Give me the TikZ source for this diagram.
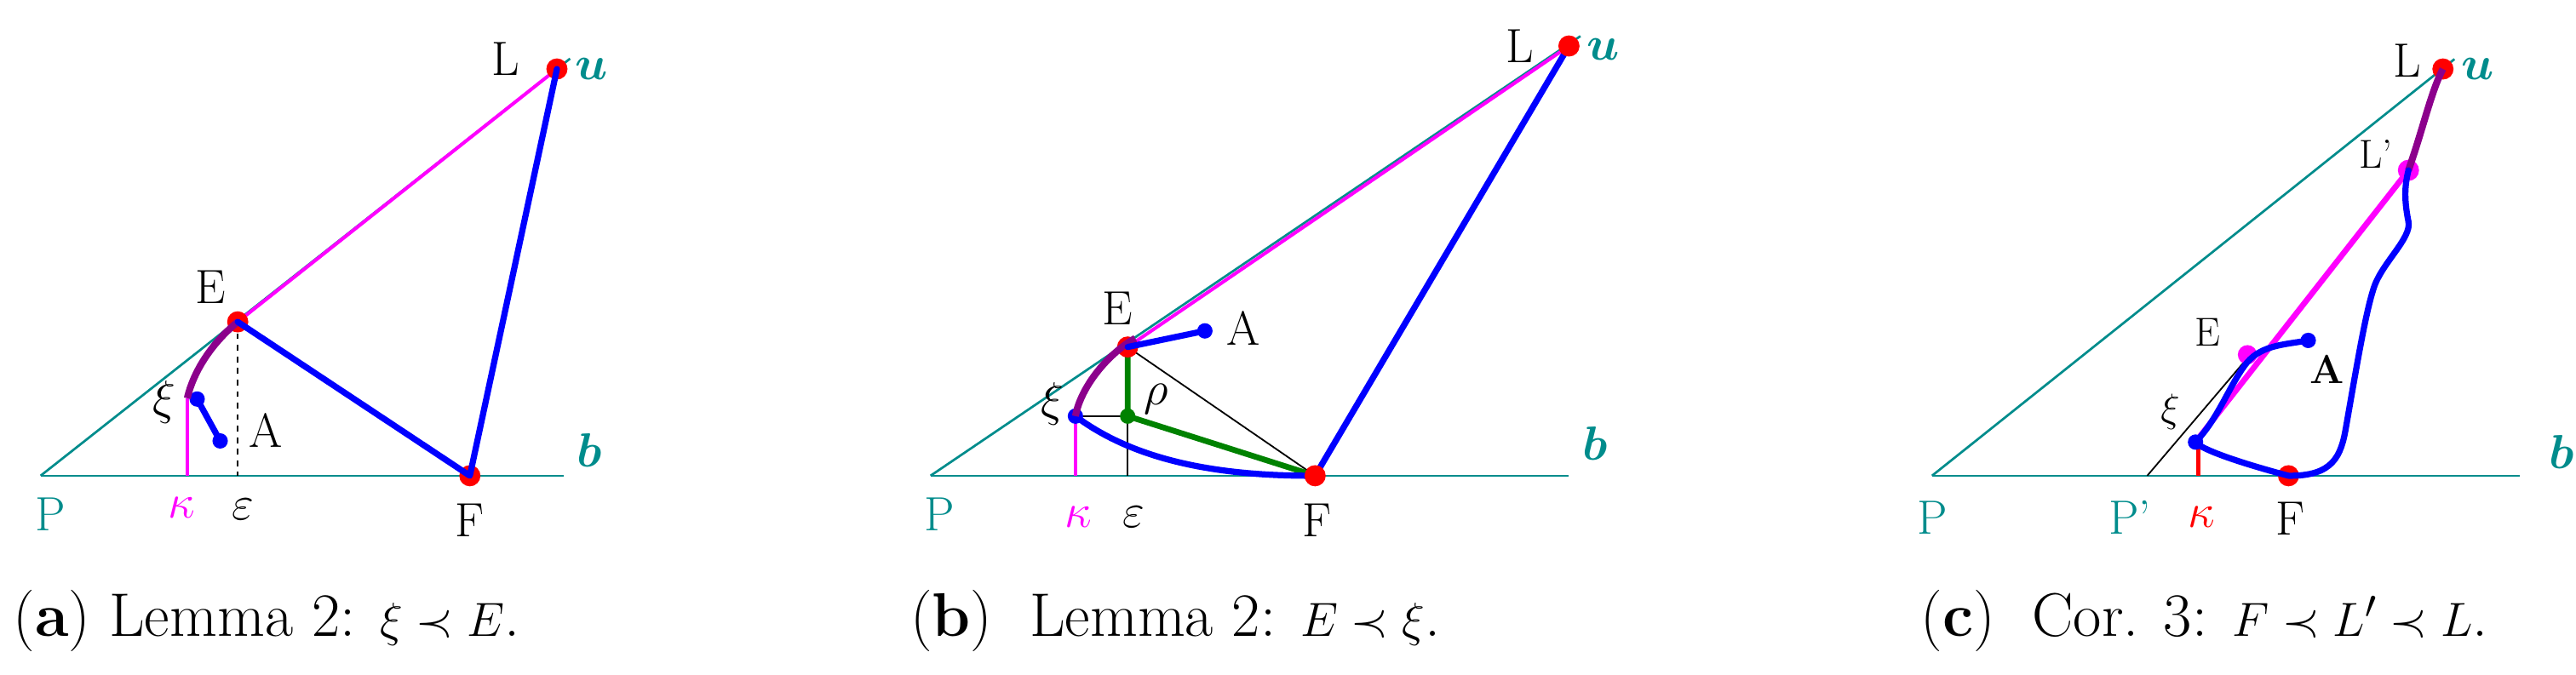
\documentclass[tikz,border=0pt]{standalone}
\usepackage{bm}
\begin{document}
\begin{tikzpicture}[x=0.03cm,y=-0.03cm,
  tl/.style={color=tealc,line width=1.2pt},
  bl/.style={color=blue,line width=3.2pt,line join=round,line cap=round},
  mg/.style={color=magc,line width=1.8pt},
  pu/.style={color=purplec,line width=3.6pt},
  gr/.style={color=greenc,line width=3pt},
  rdot/.style={circle,fill=red,inner sep=0pt,minimum size=11pt},
  bdot/.style={circle,fill=blue,inner sep=0pt,minimum size=8pt},
  lab/.style={font=\fontsize{25}{28}\selectfont},
  tlab/.style={font=\fontsize{25}{28}\selectfont,text=tealc},
  captxt/.style={font=\fontsize{32}{36}\selectfont,anchor=west}]
\definecolor{tealc}{RGB}{0,140,140}
\definecolor{purplec}{RGB}{140,0,140}
\definecolor{greenc}{RGB}{0,130,0}
\definecolor{magc}{RGB}{255,0,255}
\useasboundingbox (0,0) rectangle (1568,411);
% ---------------- (a)
\coordinate (Pa) at (24.7,289.7);
\coordinate (ba) at (343,289.7);
\coordinate (La) at (339,42);
\coordinate (ua) at (347,35.7);
\coordinate (Ea) at (144.7,196);
\coordinate (Fa) at (286,289.7);
\coordinate (xa) at (114,242.5);
\coordinate (xba) at (120,243);
\coordinate (Aa) at (134,268.5);
\coordinate (ka) at (114,289.7);
\coordinate (ea) at (144.7,289.7);
\draw[tl] (Pa) -- (ba);
\draw[tl] (Pa) -- (ua);
\draw[mg] (xa) -- (ka);
\draw[dashed,line width=0.8pt] (Ea) -- (ea);
\draw[mg] (Ea) -- (La);
\draw[bl] (xba) -- (Aa);
\node[rdot] (dEa) at (Ea) {};
\node[rdot] (dFa) at (Fa) {};
\node[rdot] (dLa) at (La) {};
\node[bdot] (dxa) at (xba) {};
\node[bdot] (dAa) at (Aa) {};
\draw[pu] (xa) .. controls (118,225) and (130,208) .. (Ea);
\draw[bl] (Ea) -- (Fa) -- (La);
\node[lab] (lEa) at (128,175) {E};
\node[lab] (lLa) at (308,36) {L};
\node[lab] (lFa) at (286,317) {F};
\node[lab] (lAa) at (162,262) {A};
\node[lab] (lxa) at (100,245) {$\xi$};
\node[lab] (lea) at (148,310) {$\varepsilon$};
\node[lab,text=magc] (lka) at (110.6,309) {$\kappa$};
\node[tlab] (lPa) at (30.6,313) {P};
\node[tlab] (lba) at (359,274) {$\bm{b}$};
\node[tlab] (lua) at (360,42) {$\bm{u}$};
\node[captxt] (capa) at (4,378) {(\textbf{a}) Lemma 2: $\xi \prec E$.};
% ---------------- (b)
\coordinate (Pb) at (566.4,289.7);
\coordinate (bb) at (955,289.7);
\coordinate (Lb) at (955,28);
\coordinate (ub) at (962,22);
\coordinate (Eb) at (686.4,211.3);
\coordinate (Ab) at (733.4,201.5);
\coordinate (xb) at (654.6,253.4);
\coordinate (gb) at (686.4,253.4);
\coordinate (Fb) at (800.5,289.7);
\coordinate (kb) at (654.6,289.7);
\coordinate (eb) at (686.4,289.7);
\draw[tl] (Pb) -- (bb);
\draw[tl] (Pb) -- (ub);
\draw[mg] (xb) -- (kb);
\draw[line width=0.8pt] (gb) -- (eb);
\draw[line width=0.8pt] (xb) -- (gb);
\draw[line width=0.8pt] (Eb) -- (Fb);
\draw[mg] (Eb) -- (Lb);
\draw[gr] (Eb) -- (gb) -- (Fb);
\draw[bl] (xb) .. controls (690,280) and (740,290) .. (Fb);
\draw[bl] (Fb) -- (Lb);
\node[rdot] (dEb) at (Eb) {};
\node[rdot] (dFb) at (Fb) {};
\node[rdot] (dLb) at (Lb) {};
\node[bdot] (dxb) at (xb) {};
\node[bdot] (dAb) at (Ab) {};
\node[circle,fill=greenc,inner sep=0pt,minimum size=8pt] (dgb) at (gb) {};
\draw[pu] (xb) .. controls (658,235) and (675,215) .. (691,206);
\draw[bl] (Eb) -- (Ab);
\node[lab] (lEb) at (680,188) {E};
\node[lab] (lLb) at (925,28) {L};
\node[lab] (lFb) at (801.6,317) {F};
\node[lab] (lAb) at (757,200) {A};
\node[lab] (lxb) at (640.5,246) {$\xi$};
\node[lab] (lrb) at (704,243) {$\rho$};
\node[lab] (leb) at (690,315) {$\varepsilon$};
\node[lab,text=magc] (lkb) at (656.5,315) {$\kappa$};
\node[tlab] (lPb) at (572,313) {P};
\node[tlab] (lbb) at (971,270) {$\bm{b}$};
\node[tlab] (lub) at (976,30) {$\bm{u}$};
\node[captxt] (capb) at (550,378) {(\textbf{b})\ \ Lemma 2: $E \prec \xi$.};
% ---------------- (c)
\coordinate (Pc) at (1176,289.7);
\coordinate (bc) at (1534,289.7);
\coordinate (Lc) at (1487,42);
\coordinate (uc) at (1494,36);
\coordinate (Lpc) at (1466,103.7);
\coordinate (Ec) at (1368,216);
\coordinate (Ac) at (1405,207.3);
\coordinate (xc) at (1336.4,269.2);
\coordinate (Fc) at (1393,289.7);
\coordinate (kc) at (1338,289.7);
\coordinate (kt) at (1338,271);
\coordinate (Ppc) at (1307,289.7);
\coordinate (tc) at (1368,218);
\draw[tl] (Pc) -- (bc);
\draw[tl] (Pc) -- (uc);
\draw[line width=0.8pt] (Ppc) -- (tc);
\draw[color=red,line width=2.4pt] (kt) -- (kc);
\draw[color=magc,line width=3pt] (xc) -- (Lpc);
\node[circle,fill=magc,inner sep=0pt,minimum size=10pt] (dEc) at (Ec) {};
\node[circle,fill=magc,inner sep=0pt,minimum size=11pt] (dLpc) at (Lpc) {};
\node[rdot] (dFc) at (Fc) {};
\node[rdot] (dLc) at (Lc) {};
\draw[pu] (Lpc) .. controls (1475,78) and (1480,55) .. (Lc);
\draw[bl] (Ac) .. controls (1390,210) and (1375,210) .. (1366,223)
  .. controls (1356,237) and (1350,255) .. (xc)
  .. controls (1341,275) and (1375,285) .. (Fc)
  .. controls (1420,290) and (1425,278) .. (1428,260)
  .. controls (1435,220) and (1440,190) .. (1445,175)
  .. controls (1450,160) and (1468,145) .. (1466,135)
  .. controls (1463,120) and (1464,112) .. (Lpc);
\node[bdot] (dxc) at (xc) {};
\node[bdot] (dAc) at (Ac) {};
\node[lab] (lEc) at (1343.5,202.5) {\fontsize{21}{24}\selectfont E};
\node[lab] (lLpc) at (1446,94) {\fontsize{21}{24}\selectfont L'};
\node[lab] (lLc) at (1465,37) {L};
\node[lab] (lFc) at (1394,316) {F};
\node[lab] (lAc) at (1416.5,225) {\fontsize{21}{24}\selectfont\textbf{A}};
\node[lab] (lxc) at (1321,251) {\fontsize{21}{24}\selectfont$\xi$};
\node[lab,text=red] (lkc) at (1340,315) {$\kappa$};
\node[tlab] (lPpc) at (1296.4,315) {P'};
\node[tlab] (lPc) at (1176,315) {P};
\node[tlab] (lbc) at (1559,275) {$\bm{b}$};
\node[tlab] (luc) at (1508,42) {$\bm{u}$};
\node[captxt] (capc) at (1165,378) {(\textbf{c})\ \ Cor. 3: $F \prec L' \prec L$.};
\end{tikzpicture}
\end{document}
